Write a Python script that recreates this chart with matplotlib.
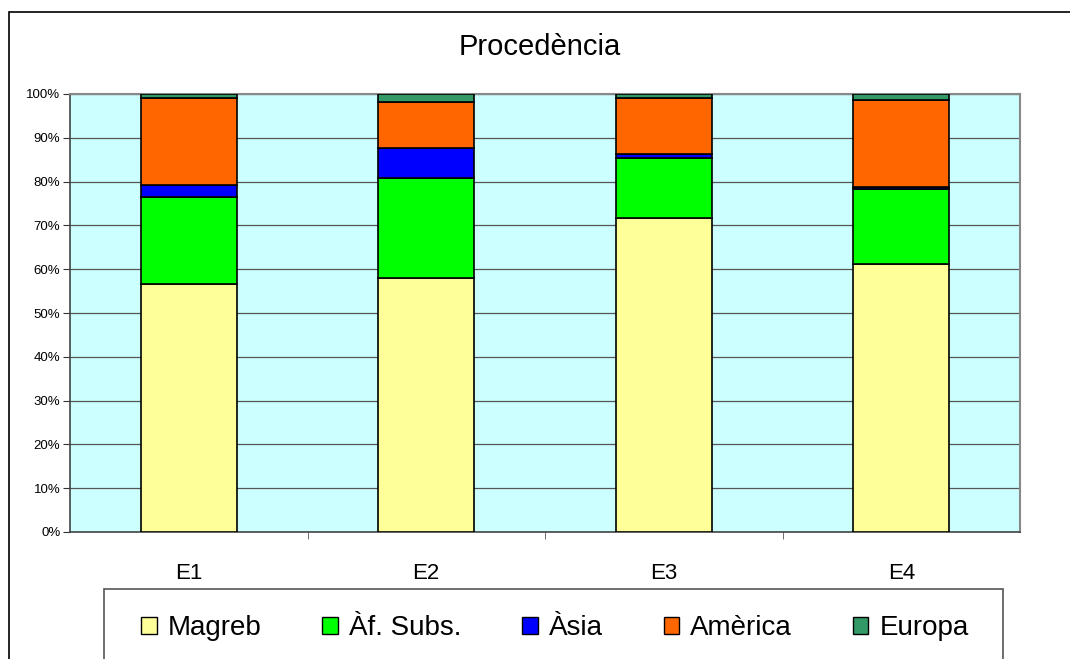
import numpy as np
import matplotlib.pyplot as plt
from matplotlib.patches import Rectangle, Patch
from matplotlib.ticker import PercentFormatter, FixedLocator

plt.rcParams['font.family'] = ['Liberation Sans', 'DejaVu Sans']

categories = ["E1", "E2", "E3", "E4"]
series_names = ["Magreb", "Àf. Subs.", "Àsia", "Amèrica", "Europa"]
magreb = [56.6, 58.0, 71.8, 61.1]
af_subs = [19.9, 22.9, 13.7, 17.2]
asia = [2.7, 6.8, 0.8, 0.4]
america = [19.9, 10.5, 12.9, 19.9]
europa = [0.9, 1.8, 0.8, 1.4]
colors = ["#FFFF99", "#00FF00", "#0000FF", "#FF6600", "#339966"]

series = [magreb, af_subs, asia, america, europa]

fig = plt.figure(figsize=(10.7, 6.59), dpi=100)
W, H = 1070, 659

# outer chart border
fig.patches.append(Rectangle((9 / W, -0.1), 1.2, 1 - 12 / H + 0.1, transform=fig.transFigure,
                             fill=False, edgecolor="black", linewidth=1.2))

ax = fig.add_axes([70 / W, 1 - 532 / H, 950 / W, 438 / H])
ax.set_facecolor("#CCFFFF")

x = np.arange(len(categories))
bottom = np.zeros(len(categories))
for vals, col, name in zip(series, colors, series_names):
    ax.bar(x, vals, width=0.405, bottom=bottom, color=col, edgecolor="black",
           linewidth=1.2, label=name, zorder=3)
    bottom += np.array(vals)

ax.set_xlim(-0.5, len(categories) - 0.5)
ax.set_ylim(0, 100)
ax.yaxis.set_major_locator(FixedLocator(np.arange(0, 101, 10)))
ax.yaxis.set_major_formatter(PercentFormatter(decimals=0))
ax.grid(axis="y", color="#555555", linewidth=0.9, zorder=0)
ax.set_axisbelow(True)

ax.set_xticks(x)
ax.set_xticklabels(categories, fontsize=16)
ax.tick_params(axis="x", length=0, pad=22)
ax.set_xticks(np.arange(0.5, len(categories) - 0.5, 1), minor=True)
ax.tick_params(axis="x", which="minor", length=5, color="#555555", direction="out")
ax.tick_params(axis="y", labelsize=9.5, length=5, color="#333333", direction="out", pad=2)

for s in ["top", "right"]:
    ax.spines[s].set_color("#888888")
    ax.spines[s].set_linewidth(1.5)
for s in ["left", "bottom"]:
    ax.spines[s].set_color("#444444")
    ax.spines[s].set_linewidth(1.2)

fig.text(540 / W, 1 - 47 / H, "Procedència", ha="center", va="center", fontsize=21)

# legend box
fig.patches.append(Rectangle((104 / W, -0.1), 899 / W, 0.1 + 1 - 589 / H, transform=fig.transFigure,
                             fill=False, edgecolor="#555555", linewidth=1.2))
handles = [Patch(facecolor=c, edgecolor="black", linewidth=1.0) for c in colors]
fig.legend(handles, series_names, loc="center", bbox_to_anchor=(555 / W, 1 - 628 / H),
           ncol=5, frameon=False, fontsize=20, handlelength=0.55, handleheight=0.55,
           handletextpad=0.4, columnspacing=2.2)

fig.savefig("out.png", dpi=100)
